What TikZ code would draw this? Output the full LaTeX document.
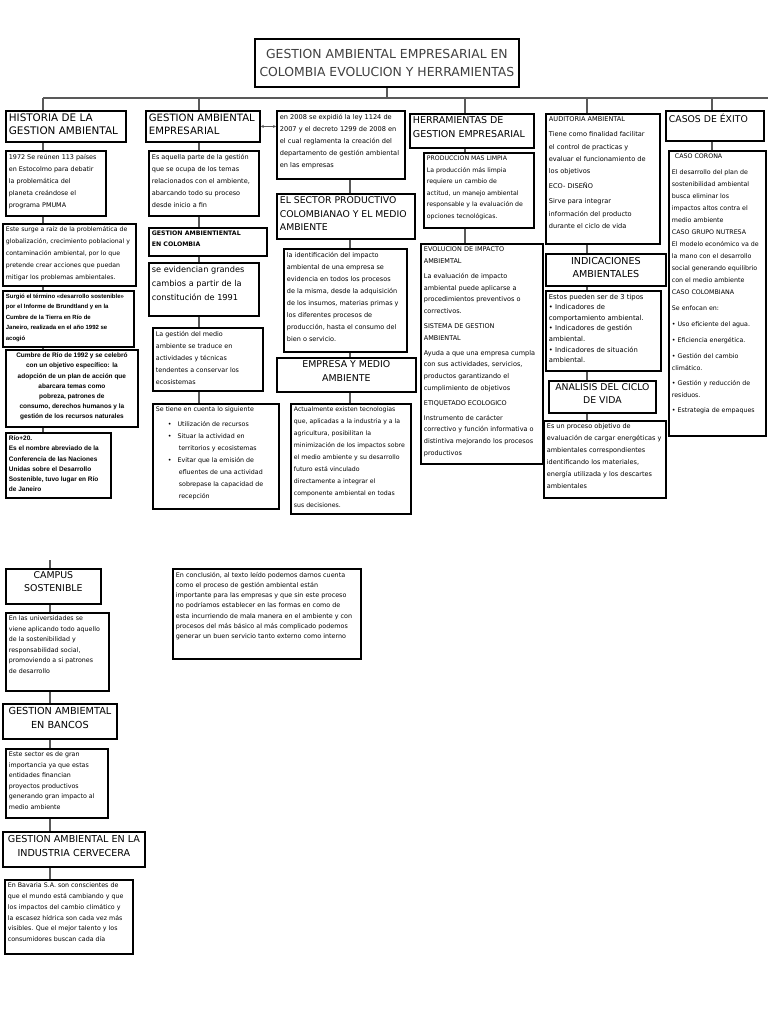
\documentclass[tikz,border=0pt]{standalone}
\usepackage{fontspec}
\setmainfont{DejaVu Sans}
\newfontfamily\arialf{Liberation Sans}
\usetikzlibrary{arrows.meta}
\newcommand\fs[2]{\fontsize{#1}{#2}\selectfont}
\newcommand\bx[7]{\node[box,#1] (#2) at (#3,#4) {\parbox[c][\dimexpr#6pt-6pt\relax][t]{\dimexpr#5pt-6pt\relax}{\raggedright\hyphenpenalty=10000\exhyphenpenalty=10000 #7}};}
\begin{document}
\begin{tikzpicture}[x=1pt,y=-1pt,
  box/.style={draw=black,line width=1.8pt,anchor=north west,inner xsep=3pt,inner ysep=3pt},
  conn/.style={draw=black!65,line width=1.2pt},
  biarrow/.style={conn,line width=0.8pt,{Stealth[length=3pt,width=3pt]}-{Stealth[length=3pt,width=3pt]}}]
\useasboundingbox (0,0) rectangle (768,1024);
% title
\node[box,minimum width=264pt,minimum height=48pt,align=center,text=black!75,font=\fs{12.4}{18}] (title) at (254,38) {GESTION AMBIENTAL EMPRESARIAL EN\\COLOMBIA EVOLUCION Y HERRAMIENTAS};
\coordinate (busL) at (43,98);
\coordinate (busR) at (768,98);
\coordinate (c1) at (43,0);
\coordinate (c2) at (199,0);
\coordinate (c3) at (350,0);
\coordinate (c4) at (465,0);
\coordinate (c5) at (587,0);
\coordinate (c6) at (712,0);
\coordinate (c7) at (50,0);
\coordinate (stub) at (50,560);
% column 1
\bx{}{hist}{5}{110}{120}{31}{\fs{10.4}{13}HISTORIA DE LA\\GESTION AMBIENTAL}
\bx{}{y1972}{5}{150}{100}{65}{\fs{6.4}{12}1972 Se reúnen 113 países\\en Estocolmo para debatir\\la problemática del\\planeta creándose el\\programa PMUMA}
\bx{}{surge}{2}{223}{133}{62}{\fs{6.2}{12}Este surge a raíz de la problemática de\\globalización, crecimiento poblacional y\\contaminación ambiental, por lo que\\pretende crear acciones que puedan\\mitigar los problemas ambientales.}
\bx{}{surgio}{2}{290}{131}{56}{\arialf\bfseries\fs{6}{10.5}Surgió el término «desarrollo sostenible»\\por el Informe de Brundtland y en la\\Cumbre de la Tierra en Río de\\Janeiro, realizada en el año 1992 se\\acogió}
\bx{}{cumbre}{5}{349}{132}{77}{\centering\arialf\bfseries\fs{6.5}{10.2}Cumbre de Río de 1992 y se celebró\\con un objetivo específico: la\\adopción de un plan de acción que\\abarcara temas como\\pobreza, patrones de\\consumo, derechos humanos y la\\gestión de los recursos naturales\par}
\bx{}{rio}{5}{432}{105}{65}{\arialf\bfseries\fs{6.5}{10.2}Río+20.\\Es el nombre abreviado de la\\Conferencia de las Naciones\\Unidas sobre el Desarrollo\\Sostenible, tuvo lugar en Río\\de Janeiro}
% column 2
\bx{}{gae}{145}{110}{114}{31}{\fs{10.1}{13}GESTION AMBIENTAL\\EMPRESARIAL}
\bx{}{aquella}{148}{150}{110}{65}{\fs{6.5}{12}Es aquella parte de la gestión\\que se ocupa de los temas\\relacionados con el ambiente,\\abarcando todo su proceso\\desde inicio a fin}
\bx{}{gaec}{148}{227}{118}{28}{\bfseries\fs{6.2}{11}GESTION AMBIENTIENTAL\\EN COLOMBIA}
\bx{}{evid}{148}{262}{110}{53}{\fs{8.2}{14}se evidencian grandes\\cambios a partir de la\\constitución de 1991}
\bx{}{lagest}{152}{327}{110}{63}{\fs{6.4}{12}La gestión del medio\\ambiente se traduce en\\actividades y técnicas\\tendentes a conservar los\\ecosistemas}
\bx{}{tiene}{152}{403}{126}{105}{\fs{6.3}{12}Se tiene en cuenta lo siguiente\\[3pt]
\hspace*{12pt}\textbullet\hspace{6pt}Utilización de recursos\\
\hspace*{12pt}\textbullet\hspace{6pt}Situar la actividad en\\
\hspace*{23pt}territorios y ecosistemas\\
\hspace*{12pt}\textbullet\hspace{6pt}Evitar que la emisión de\\
\hspace*{23pt}efluentes de una actividad\\
\hspace*{23pt}sobrepase la capacidad de\\
\hspace*{23pt}recepción}
% column 3
\bx{}{ley}{276}{110}{128}{68}{\fs{6.6}{12}en 2008 se expidió la ley 1124 de\\2007 y el decreto 1299 de 2008 en\\el cual reglamenta la creación del\\departamento de gestión ambiental\\en las empresas}
\bx{}{sector}{276}{193}{138}{45}{\fs{9.3}{13.5}EL SECTOR PRODUCTIVO\\COLOMBIANAO Y EL MEDIO\\AMBIENTE}
\bx{}{ident}{283}{248}{123}{103}{\fs{6.5}{12}la identificación del impacto\\ambiental de una empresa se\\evidencia en todos los procesos\\de la misma, desde la adquisición\\de los insumos, materias primas y\\los diferentes procesos de\\producción, hasta el consumo del\\bien o servicio.}
\bx{}{empresa}{276}{357}{139}{34}{\centering\fs{9.4}{14}EMPRESA Y MEDIO\\AMBIENTE\par}
\bx{}{actual}{290}{403}{120}{110}{\fs{6.2}{12}Actualmente existen tecnologías\\que, aplicadas a la industria y a la\\agricultura, posibilitan la\\minimización de los impactos sobre\\el medio ambiente y su desarrollo\\futuro está vinculado\\directamente a integrar el\\componente ambiental en todas\\sus decisiones.}
% column 4
\bx{}{herr}{409}{113}{124}{34}{\fs{9.5}{14}HERRAMIENTAS DE\\GESTION EMPRESARIAL}
\bx{}{prod}{423}{152}{110}{75}{\fs{6.2}{11.5}PRODUCCION MAS LIMPIA\\La producción más limpia\\requiere un cambio de\\actitud, un manejo ambiental\\responsable y la evaluación de\\opciones tecnológicas.}
\bx{}{evol}{420}{243}{122}{220}{\fs{6.5}{11.8}EVOLUCION DE IMPACTO\\AMBIEMTAL\\[3pt]
La evaluación de impacto\\ambiental puede aplicarse a\\procedimientos preventivos o\\correctivos.\\[3pt]
SISTEMA DE GESTION\\AMBIENTAL\\[3pt]
Ayuda a que una empresa cumpla\\con sus actividades, servicios,\\productos garantizando el\\cumplimiento de objetivos\\[3pt]
ETIQUETADO ECOLOGICO\\[3pt]
Instrumento de carácter\\correctivo y función informativa o\\distintiva mejorando los procesos\\productivos}
% column 5
\bx{}{audit}{545}{113}{114}{130}{\fs{6.6}{12.2}AUDITORIA AMBIENTAL\\[3pt]
Tiene como finalidad facilitar\\el control de practicas y\\evaluar el funcionamiento de\\los objetivos\\[3pt]
ECO- DISEÑO\\[3pt]
Sirve para integrar\\información del producto\\durante el ciclo de vida}
\bx{}{indic}{545}{253}{120}{32}{\centering\fs{9.6}{13.5}INDICACIONES\\AMBIENTALES\par}
\bx{}{estos}{545}{290}{115}{80}{\fs{6.8}{10.6}Estos pueden ser de 3 tipos\\\textbullet{} Indicadores de\\comportamiento ambiental.\\\textbullet{} Indicadores de gestión\\ambiental.\\\textbullet{} Indicadores de situación\\ambiental.}
\bx{}{analisis}{548}{380}{107}{32}{\centering\fs{9.3}{12.5}ANALISIS DEL CICLO\\DE VIDA\par}
\bx{}{proceso}{543}{420}{122}{77}{\fs{6.5}{12}Es un proceso objetivo de\\evaluación de cargar energéticas y\\ambientales correspondientes\\identificando los materiales,\\energía utilizada y los descartes\\ambientales}
% column 6
\bx{}{casos}{665}{110}{98}{30}{\fs{9.3}{12}CASOS DE ÉXITO}
\bx{}{casosc}{668}{150}{97}{285}{\fs{6.3}{12}\hspace*{3pt}CASO CORONA\\[4pt]
El desarrollo del plan de\\sostenibilidad ambiental\\busca eliminar los\\impactos altos contra el\\medio ambiente\\
CASO GRUPO NUTRESA\\
El modelo económico va de\\la mano con el desarrollo\\social generando equilibrio\\con el medio ambiente\\
CASO COLOMBIANA\\[4pt]
Se enfocan en:\\[4pt]
\textbullet{} Uso eficiente del agua.\\[4pt]
\textbullet{} Eficiencia energética.\\[4pt]
\textbullet{} Gestión del cambio\\climático.\\[3pt]
\textbullet{} Gestión y reducción de\\residuos.\\[3pt]
\textbullet{} Estrategia de empaques}
% bottom
\bx{}{campus}{5}{568}{95}{35}{\centering\fs{9.4}{13}CAMPUS\\SOSTENIBLE\par}
\bx{}{univ}{5}{612}{103}{78}{\fs{6.3}{10.5}En las universidades se\\viene aplicando todo aquello\\de la sostenibilidad y\\responsabilidad social,\\promoviendo a si patrones\\de desarrollo}
\bx{}{bancos}{2}{703}{114}{35}{\centering\fs{9.7}{14}GESTION AMBIEMTAL\\EN BANCOS\par}
\bx{}{sector2}{5}{748}{102}{69}{\fs{6.3}{10.5}Este sector es de gran\\importancia ya que estas\\entidades financian\\proyectos productivos\\generando gran impacto al\\medio ambiente}
\bx{}{cerv}{2}{831}{142}{35}{\centering\fs{9.6}{14}GESTION AMBIENTAL EN LA\\INDUSTRIA CERVECERA\par}
\bx{}{bavaria}{4}{879}{128}{74}{\fs{6.3}{10.8}En Bavaria S.A. son conscientes de\\que el mundo está cambiando y que\\los impactos del cambio climático y\\la escasez hídrica son cada vez más\\visibles. Que el mejor talento y los\\consumidores buscan cada día}
\bx{}{concl}{172}{568}{188}{90}{\fs{6.4}{10.3}En conclusión, al texto leído podemos darnos cuenta\\como el proceso de gestión ambiental están\\importante para las empresas y que sin este proceso\\no podríamos establecer en las formas en como de\\esta incurriendo de mala manera en el ambiente y con\\procesos del más básico al más complicado podemos\\generar un buen servicio tanto externo como interno}
% connectors
\draw[conn] (busL) -- (busR);
\draw[conn] (title.south) -- (title.south |- busL);
\draw[conn] (busL -| c1) -- (hist.north -| c1);
\draw[conn] (busL -| c2) -- (gae.north -| c2);
\draw[conn] (busL -| c4) -- (herr.north -| c4);
\draw[conn] (busL -| c5) -- (audit.north -| c5);
\draw[conn] (busL -| c6) -- (casos.north -| c6);
\draw[conn] (hist.south -| c1) -- (y1972.north -| c1);
\draw[conn] (y1972.south -| c1) -- (surge.north -| c1);
\draw[conn] (surge.south -| c1) -- (surgio.north -| c1);
\draw[conn] (surgio.south -| c1) -- (cumbre.north -| c1);
\draw[conn] (cumbre.south -| c1) -- (rio.north -| c1);
\draw[conn] (gae.south -| c2) -- (aquella.north -| c2);
\draw[conn] (aquella.south -| c2) -- (gaec.north -| c2);
\draw[conn] (gaec.south -| c2) -- (evid.north -| c2);
\draw[conn] (evid.south -| c2) -- (lagest.north -| c2);
\draw[conn] (lagest.south -| c2) -- (tiene.north -| c2);
\draw[biarrow] (gae.east) -- (gae.east -| ley.west);
\draw[conn] (ley.south -| c3) -- (sector.north -| c3);
\draw[conn] (sector.south -| c3) -- (ident.north -| c3);
\draw[conn] (ident.south -| c3) -- (empresa.north -| c3);
\draw[conn] (empresa.south -| c3) -- (actual.north -| c3);
\draw[conn] (herr.south -| c4) -- (prod.north -| c4);
\draw[conn] (prod.south -| c4) -- (evol.north -| c4);
\draw[conn] (audit.south -| c5) -- (indic.north -| c5);
\draw[conn] (indic.south -| c5) -- (estos.north -| c5);
\draw[conn] (estos.south -| c5) -- (analisis.north -| c5);
\draw[conn] (analisis.south -| c5) -- (proceso.north -| c5);
\draw[conn] (casos.south -| c6) -- (casosc.north -| c6);
\draw[conn] (stub) -- (campus.north -| c7);
\draw[conn] (campus.south -| c7) -- (univ.north -| c7);
\draw[conn] (univ.south -| c7) -- (bancos.north -| c7);
\draw[conn] (bancos.south -| c7) -- (sector2.north -| c7);
\draw[conn] (sector2.south -| c7) -- (cerv.north -| c7);
\draw[conn] (cerv.south -| c7) -- (bavaria.north -| c7);
\end{tikzpicture}
\end{document}
